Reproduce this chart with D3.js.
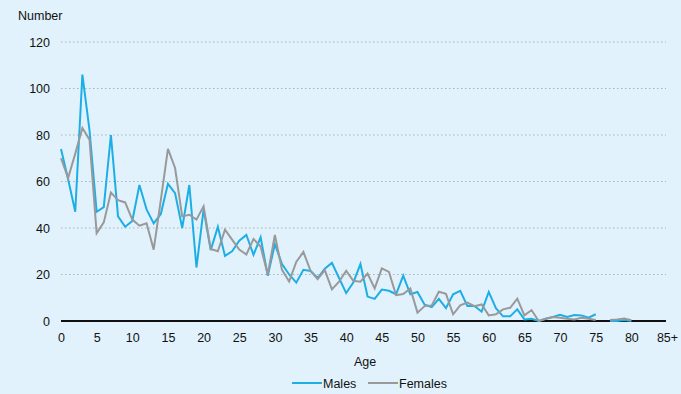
<!DOCTYPE html>
<html>
<head>
<meta charset="utf-8">
<script src="https://cdn.jsdelivr.net/npm/d3@7"></script>
<style>
  body { margin: 0; background: #e1f2fc; }
  svg { display: block; font-family: "Liberation Sans", Arial, sans-serif; }
</style>
</head>
<body>
<div id="chart"></div>
<script>
// ages 0..80, null = no value (line break)
const ages = d3.range(0, 81);
const males = [74, 61, 47, 106, 82, 47, 49, 80, 45, 40.5, 43, 58.5, 48, 42, 46, 59, 55, 40, 58.5, 23,
  48, 30.5, 40.5, 28, 30, 34.5, 37, 28.5, 36, 19.5, 33, 24.5, 20, 16.5, 22, 21.5, 18.5, 22.5, 25, 18.5,
  12, 16.5, 24.5, 10.5, 9.5, 13.5, 13, 11.5, 19.5, 11.5, 12.5, 7, 6, 9.5, 5.5, 11.5, 13, 6.5, 6.5, 4,
  12.5, 5.5, 2, 2, 5, 0.7, 1, 0, 1, 1.7, 2.7, 1.7, 2.6, 2.4, 1.4, 2.9, null, 0, 0, 0.4, 0];
const females = [70, 61.5, 72, 83, 78, 37.7, 42.4, 55.3, 52, 51, 43.6, 41, 42, 30.7, 52, 74, 65.8, 45, 45.7, 43.6,
  49.3, 31, 30, 39.3, 35, 30.7, 28.6, 35.3, 32, 20, 37, 22, 17, 25.4, 29.7, 21.6, 18, 21.9, 13.6, 16.9,
  21.6, 17.3, 16.9, 20.4, 14, 22.6, 21.1, 11.1, 11.6, 14, 3.6, 6.4, 6.7, 12.6, 11.7, 2.9, 6.7, 7.9, 6.4, 7.1,
  2.4, 2.9, 5, 5.7, 9.6, 2.4, 4.7, 0, 1, 1.7, 1.4, 1, 0.7, 1.4, 1, 0.4, null, 0.4, 0.7, 1.1, 0.3];
const xTicks = [0, 5, 10, 15, 20, 25, 30, 35, 40, 45, 50, 55, 60, 65, 70, 75, 80, 85];
const yTicks = [0, 20, 40, 60, 80, 100, 120];
const seriesNames = ["Males", "Females"];

const width = 681, height = 394;
const plot = {left: 61, right: 667, top: 42, bottom: 321};
const colors = {Males: "#1eaee6", Females: "#999999"};

const svg = d3.select("#chart").append("svg")
    .attr("width", width)
    .attr("height", height);

svg.append("rect").attr("width", width).attr("height", height).attr("fill", "#e1f2fc");

const x = d3.scaleLinear().domain([0, 85]).range([plot.left, plot.right]);
const y = d3.scaleLinear().domain([0, 120]).range([plot.bottom, plot.top]);

// gridlines
svg.append("g")
    .selectAll("line")
    .data(yTicks.filter(d => d > 0))
    .join("line")
    .attr("x1", plot.left)
    .attr("x2", plot.right - 1)
    .attr("y1", d => y(d))
    .attr("y2", d => y(d))
    .attr("stroke", "#a9b4ba")
    .attr("stroke-width", 1)
    .attr("stroke-dasharray", "1.5,2.5");

const yAxis = svg.append("g")
    .attr("transform", `translate(${plot.left},0)`)
    .call(d3.axisLeft(y).tickValues(yTicks).tickSize(0).tickPadding(11));
yAxis.select(".domain").remove();

const xAxis = svg.append("g")
    .attr("transform", `translate(0,${plot.bottom})`)
    .call(d3.axisBottom(x).tickValues(xTicks).tickSize(0).tickPadding(12)
        .tickFormat(d => d === 85 ? "85+" : d));
xAxis.select(".domain").remove();

svg.selectAll(".tick text")
    .attr("font-size", 12.5)
    .attr("font-family", "Liberation Sans, Arial, sans-serif")
    .attr("fill", "#111");

// axis baseline
svg.append("line")
    .attr("x1", plot.left)
    .attr("x2", plot.right - 1)
    .attr("y1", y(0))
    .attr("y2", y(0))
    .attr("stroke", "#111")
    .attr("stroke-width", 2);

const line = d3.line()
    .defined(d => d.v !== null)
    .x(d => x(d.age))
    .y(d => y(d.v));

const series = [
  {name: "Males", values: ages.map((a, i) => ({age: a, v: males[i]}))},
  {name: "Females", values: ages.map((a, i) => ({age: a, v: females[i]}))}
];

svg.append("g")
    .selectAll("path")
    .data(series)
    .join("path")
    .attr("fill", "none")
    .attr("stroke", d => colors[d.name])
    .attr("stroke-width", 2)
    .attr("stroke-linejoin", "miter")
    .attr("d", d => line(d.values));

svg.append("text")
    .attr("x", 18)
    .attr("y", 20)
    .attr("font-size", 12.5)
    .attr("fill", "#111")
    .text("Number");

svg.append("text")
    .attr("x", 365)
    .attr("y", 366)
    .attr("text-anchor", "middle")
    .attr("font-size", 12.5)
    .attr("fill", "#111")
    .text("Age");

// legend
const legend = svg.append("g")
    .selectAll("g")
    .data(seriesNames)
    .join("g")
    .attr("transform", (d, i) => `translate(${i === 0 ? 292 : 368},383)`);

legend.append("line")
    .attr("x1", 0)
    .attr("x2", 30)
    .attr("stroke", d => colors[d])
    .attr("stroke-width", 2);

legend.append("text")
    .attr("x", 31)
    .attr("y", 4.5)
    .attr("font-size", 12.5)
    .attr("fill", "#111")
    .text(d => d);
</script>
</body>
</html>
